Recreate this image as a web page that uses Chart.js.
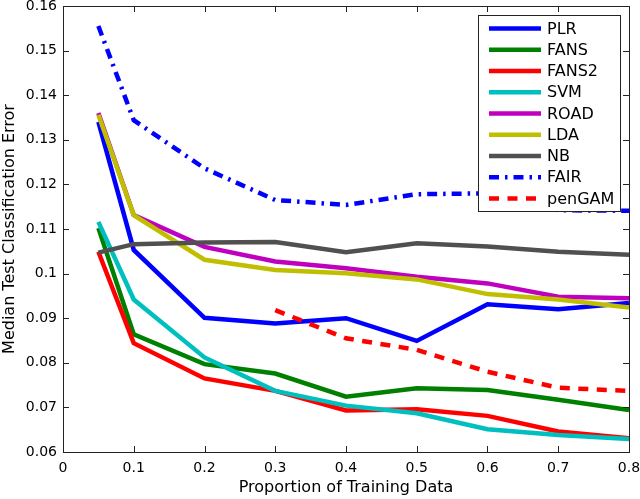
<!DOCTYPE html>
<html>
<head>
<meta charset="utf-8">
<script src="https://cdn.jsdelivr.net/npm/chart.js@4.4.0/dist/chart.umd.min.js"></script>
<style>
    html, body { margin: 0; padding: 0; background: #ffffff; }
    #wrap { width: 640px; height: 499px; }
</style>
</head>
<body>
<div id="wrap"><canvas id="errorChart" width="640" height="499"></canvas></div>
<script>
const xValues = [0.05, 0.1, 0.2, 0.3, 0.4, 0.5, 0.6, 0.7, 0.8];
const seriesNames = ['PLR', 'FANS', 'FANS2', 'SVM', 'ROAD', 'LDA', 'NB', 'FAIR', 'penGAM'];

const plr = [0.1340, 0.1053, 0.0901, 0.0888, 0.0900, 0.0849, 0.0931, 0.0920, 0.0934];
const fans = [0.1102, 0.0864, 0.0797, 0.0776, 0.0724, 0.0743, 0.0739, 0.0717, 0.0694];
const fans2 = [0.1049, 0.0844, 0.0765, 0.0737, 0.0693, 0.0696, 0.0681, 0.0646, 0.0631];
const svm = [0.1116, 0.0942, 0.0812, 0.0737, 0.0704, 0.0687, 0.0651, 0.0638, 0.0629];
const road = [0.1360, 0.1131, 0.1060, 0.1027, 0.1012, 0.0993, 0.0978, 0.0948, 0.0945];
const lda = [0.1356, 0.1131, 0.1031, 0.1008, 0.1001, 0.0987, 0.0954, 0.0942, 0.0924];
const nb = [0.1047, 0.1066, 0.1070, 0.1071, 0.1048, 0.1068, 0.1061, 0.1049, 0.1042];
const fair = [0.1555, 0.1344, 0.1236, 0.1165, 0.1154, 0.1178, 0.1180, 0.1142, 0.1141];
const penGam = [null, null, null, 0.0918, 0.0855, 0.0829, 0.0780, 0.0744, 0.0737];

const xTicks = [0, 0.1, 0.2, 0.3, 0.4, 0.5, 0.6, 0.7, 0.8];
const yTicks = [0.06, 0.07, 0.08, 0.09, 0.1, 0.11, 0.12, 0.13, 0.14, 0.15, 0.16];

const allSeries = [plr, fans, fans2, svm, road, lda, nb, fair, penGam];
const colors = ['#0000ff', '#008000', '#ff0000', '#00bfbf', '#bf00bf', '#bfbf00', '#505050', '#0000ff', '#ff0000'];
const dashes = [[], [], [], [], [], [], [], [10, 6, 2.5, 6], [10, 8.5]];

const FONT = 'DejaVu Sans';
const AXIS_COLOR = '#222222';

function toPoints(values) {
    const pts = [];
    values.forEach((v, i) => {
        if (v !== null) pts.push({ x: xValues[i], y: v });
    });
    return pts;
}

function formatTick(v) {
    return String(Number(v.toFixed(2)));
}

// MATLAB style box with inward ticks on all four sides
const boxPlugin = {
    id: 'boxPlugin',
    afterDatasetsDraw(chart) {
        const { ctx, chartArea: a, scales } = chart;
        const len = 6;
        ctx.save();
        ctx.strokeStyle = AXIS_COLOR;
        ctx.lineWidth = 1;
        ctx.setLineDash([]);
        ctx.beginPath();
        scales.x.ticks.forEach(t => {
            const px = Math.round(scales.x.getPixelForValue(t.value)) + 0.5;
            ctx.moveTo(px, a.bottom); ctx.lineTo(px, a.bottom - len);
            ctx.moveTo(px, a.top); ctx.lineTo(px, a.top + len);
        });
        scales.y.ticks.forEach(t => {
            const py = Math.round(scales.y.getPixelForValue(t.value)) + 0.5;
            ctx.moveTo(a.left, py); ctx.lineTo(a.left + len, py);
            ctx.moveTo(a.right, py); ctx.lineTo(a.right - len, py);
        });
        ctx.stroke();
        ctx.strokeRect(Math.round(a.left) + 0.5, Math.round(a.top) + 0.5,
            Math.round(a.right - a.left), Math.round(a.bottom - a.top));
        ctx.restore();
    }
};

const legendPlugin = {
    id: 'legendPlugin',
    afterDraw(chart) {
        const { ctx } = chart;
        const box = { x: 478, y: 15, w: 142, h: 196 };
        const rowH = 21.25;
        ctx.save();
        ctx.fillStyle = '#ffffff';
        ctx.fillRect(box.x, box.y, box.w, box.h);
        ctx.strokeStyle = AXIS_COLOR;
        ctx.lineWidth = 1;
        ctx.strokeRect(box.x + 0.5, box.y + 0.5, box.w, box.h);
        ctx.font = '16px "' + FONT + '"';
        ctx.textBaseline = 'middle';
        ctx.textAlign = 'left';
        chart.data.datasets.forEach((ds, i) => {
            const y = box.y + 13.5 + i * rowH;
            ctx.beginPath();
            ctx.strokeStyle = ds.borderColor;
            ctx.lineWidth = ds.borderWidth;
            ctx.lineCap = 'butt';
            ctx.setLineDash(ds.borderDash || []);
            ctx.moveTo(489, y);
            ctx.lineTo(541, y);
            ctx.stroke();
            ctx.fillStyle = '#000000';
            ctx.fillText(ds.label, 547, y + 1);
        });
        ctx.restore();
    }
};

const datasets = allSeries.map((values, i) => ({
    label: seriesNames[i],
    data: toPoints(values),
    borderColor: colors[i],
    backgroundColor: colors[i],
    borderWidth: 4.5,
    borderDash: dashes[i],
    borderCapStyle: 'butt',
    borderJoinStyle: 'miter',
    pointRadius: 0,
    tension: 0,
    fill: false,
    order: allSeries.length - i
}));

new Chart(document.getElementById('errorChart'), {
    type: 'line',
    data: { datasets },
    plugins: [boxPlugin, legendPlugin],
    options: {
        responsive: false,
        devicePixelRatio: 1,
        animation: false,
        layout: { padding: { top: 6, right: 11, left: 0, bottom: 0 } },
        plugins: {
            legend: { display: false },
            tooltip: { enabled: false }
        },
        scales: {
            x: {
                type: 'linear',
                min: 0,
                max: 0.8,
                afterBuildTicks: s => { s.ticks = xTicks.map(v => ({ value: v })); },
                afterFit: s => {
                    s.height = 47;
                    s.paddingLeft = 0;
                    s.paddingRight = 0;
                },
                ticks: {
                    color: '#000000',
                    padding: 8,
                    maxRotation: 0,
                    font: { family: FONT, size: 14 },
                    callback: v => formatTick(v)
                },
                grid: { display: false, drawTicks: false },
                border: { display: false },
                title: {
                    display: true,
                    text: 'Proportion of Training Data',
                    color: '#000000',
                    font: { family: FONT, size: 16 },
                    padding: { top: 0, bottom: 2 }
                }
            },
            y: {
                type: 'linear',
                min: 0.06,
                max: 0.16,
                afterBuildTicks: s => { s.ticks = yTicks.map(v => ({ value: v })); },
                afterFit: s => {
                    s.width = 63;
                    s.paddingTop = 0;
                    s.paddingBottom = 0;
                },
                ticks: {
                    color: '#000000',
                    padding: 6,
                    font: { family: FONT, size: 14 },
                    callback: v => formatTick(v)
                },
                grid: { display: false, drawTicks: false },
                border: { display: false },
                title: {
                    display: true,
                    text: 'Median Test Classification Error',
                    color: '#000000',
                    font: { family: FONT, size: 16 },
                    padding: { top: 0, bottom: 0 }
                }
            }
        }
    }
});
</script>
</body>
</html>
